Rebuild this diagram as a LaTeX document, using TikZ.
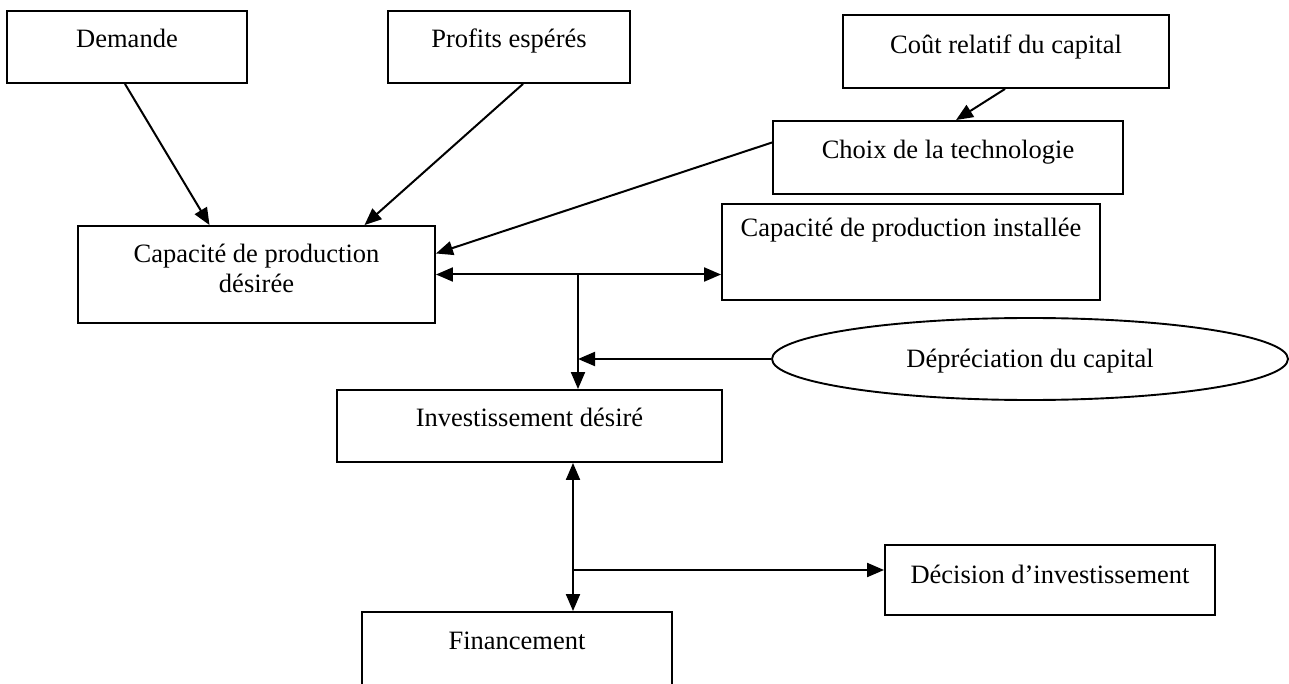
\documentclass[tikz,border=0pt]{standalone}
\usepackage{fontspec}
\setmainfont{Liberation Serif}
\usetikzlibrary{arrows.meta,shapes.geometric,calc}
\begin{document}
\begin{tikzpicture}[x=1pt,y=-1pt,
  box/.style={draw, line width=1.9pt, inner sep=0pt, rectangle},
  oval/.style={draw, line width=1.9pt, inner sep=0pt, ellipse},
  lbl/.style={font=\fontsize{26.5}{30}\selectfont, anchor=base, inner sep=0pt, align=center},
  arr/.style={line width=2pt, -{Triangle[length=17pt,width=14pt]}},
  darr/.style={line width=2pt, {Triangle[length=17pt,width=14pt]}-{Triangle[length=17pt,width=14pt]}},
]
\useasboundingbox (0,0) rectangle (1289,684);

% boxes
\node[box, minimum width=240pt, minimum height=72pt] (dem) at (127,47) {};
\node[box, minimum width=242pt, minimum height=72pt] (prof) at (509,47) {};
\node[box, minimum width=326pt, minimum height=73pt] (cout) at (1006,51.5) {};
\node[box, minimum width=350pt, minimum height=73pt] (choix) at (948,157.5) {};
\node[box, minimum width=357pt, minimum height=97pt] (capdes) at (256.5,274.5) {};
\node[box, minimum width=378pt, minimum height=96pt] (capinst) at (911,252) {};
\node[oval, minimum width=516pt, minimum height=82pt] (dep) at (1030,359) {};
\node[box, minimum width=385pt, minimum height=72pt] (inv) at (529.5,426) {};
\node[box, minimum width=330pt, minimum height=70pt] (dec) at (1050,580) {};
\node[box, minimum width=310pt, minimum height=100pt] (fin) at (517,662) {};

% labels
\node[lbl] (tdem) at ($(dem.north)+(0,37)$) {Demande};
\node[lbl] (tprof) at ($(prof.north)+(0,37)$) {Profits espérés};
\node[lbl] (tcout) at ($(cout.north)+(0,39)$) {Coût relatif du capital};
\node[lbl] (tchoix) at ($(choix.north)+(0,38)$) {Choix de la technologie};
\node[lbl] (tcapdes) at ($(capdes.north)+(0,67)$) {Capacité de production\\désirée};
\node[lbl] (tcapinst) at ($(capinst.north)+(0,33)$) {Capacité de production installée};
\node[lbl] (tdep) at ($(dep.center)+(0,8)$) {Dépréciation du capital};
\node[lbl] (tinv) at ($(inv.north)+(0,37)$) {Investissement désiré};
\node[lbl] (tdec) at ($(dec.north)+(0,39)$) {Décision d’investissement};
\node[lbl] (tfin) at ($(fin.north)+(0,38)$) {Financement};

% junctions
\coordinate (j1) at (578,274.5);
\coordinate (j2) at (573,570);

% connectors
\draw[arr] ([xshift=-2pt]dem.south) -- ([xshift=-47pt]capdes.north);
\draw[arr] ([xshift=14pt]prof.south) -- ([xshift=108pt]capdes.north);
\draw[arr] ([xshift=-1pt]cout.south) -- ([xshift=8pt]choix.north);
\draw[arr] ([yshift=15pt]choix.west) -- ([yshift=21pt]capdes.east);
\draw[darr] (capdes.east) -- (capdes.east -| capinst.west);
\draw[arr] (j1) -- (j1 |- inv.north);
\draw[arr] (dep.west) -- (dep.west -| j1);
\draw[darr] (j2 |- inv.south) -- (j2 |- fin.north);
\draw[arr] (j2) -- (j2 -| dec.west);
\end{tikzpicture}
\end{document}
